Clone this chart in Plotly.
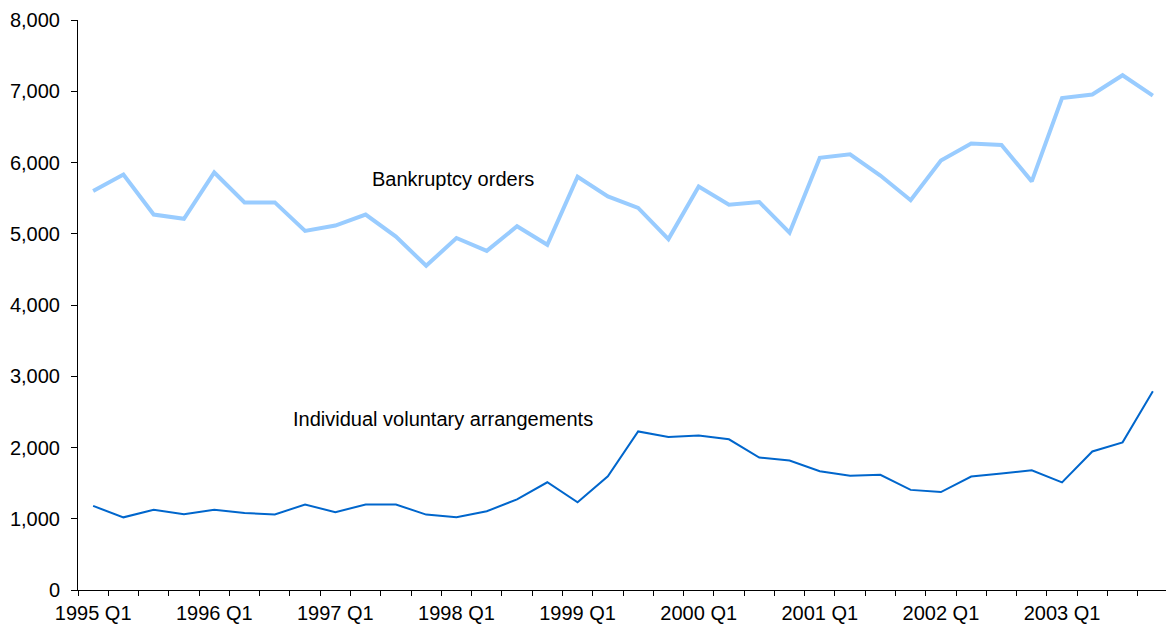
import plotly.graph_objects as go

years = list(range(1995, 2004))
quarters = [f"{y} Q{q}" for y in years for q in range(1, 5)]

bankruptcy_orders = [5600, 5830, 5270, 5210, 5860, 5440, 5440, 5040,
                     5115, 5270, 4960, 4550, 4940, 4760, 5105, 4845,
                     5800, 5525, 5362, 4925, 5662, 5408, 5446, 5014,
                     6066, 6115, 5817, 5470, 6028, 6265, 6245, 5735,
                     6905, 6955, 7225, 6938]
iva = [1180, 1020, 1125, 1062, 1125, 1080, 1060, 1200,
       1092, 1200, 1200, 1058, 1020, 1105, 1272, 1512,
       1230, 1596, 2225, 2148, 2169, 2115, 1859, 1817,
       1668, 1603, 1617, 1405, 1375, 1592, 1636, 1680,
       1510, 1944, 2072, 2789]

xidx = list(range(len(quarters)))
q1_idx = [i for i, q in enumerate(quarters) if q.endswith("Q1")]
q1_labels = [quarters[i] for i in q1_idx]

font_family = "Liberation Sans, Arial, sans-serif"

fig = go.Figure()
fig.add_trace(go.Scatter(x=xidx, y=bankruptcy_orders, mode="lines",
                         line=dict(color="#99CCFF", width=4),
                         name="Bankruptcy orders", hoverinfo="y"))
fig.add_trace(go.Scatter(x=xidx, y=iva, mode="lines",
                         line=dict(color="#0066CC", width=2),
                         name="Individual voluntary arrangements", hoverinfo="y"))

fig.add_annotation(x=11.9, y=5770, text="Bankruptcy orders", showarrow=False,
                   font=dict(family=font_family, size=20, color="black"))
fig.add_annotation(x=11.55, y=2400, text="Individual voluntary arrangements", showarrow=False,
                   font=dict(family=font_family, size=20, color="black"))

# page body has an 8px default margin, so the figure is sized to fit the window
fig.update_layout(
    width=1166, height=617,
    margin=dict(l=70, r=6, t=12, b=35),
    paper_bgcolor="white", plot_bgcolor="white",
    showlegend=False,
    font=dict(family=font_family, size=20, color="black"),
    xaxis=dict(
        range=[-0.5, len(quarters) - 0.5],
        tickvals=q1_idx, ticktext=q1_labels,
        ticks="outside", ticklen=5, tickcolor="rgba(0,0,0,0)",
        showline=True, linecolor="black", linewidth=1,
        showgrid=False, zeroline=False, automargin=False,
        minor=dict(tickvals=[i - 0.5 for i in range(len(quarters) + 1)],
                   ticks="outside", ticklen=5, tickcolor="black", showgrid=False),
        tickfont=dict(family=font_family, size=20, color="black"),
    ),
    yaxis=dict(
        range=[0, 8000], tickvals=list(range(0, 8001, 1000)),
        tickformat=",d",
        ticks="outside", ticklen=6, tickcolor="black",
        ticklabelstandoff=7,
        showline=True, linecolor="black", linewidth=1,
        showgrid=False, zeroline=False, automargin=False,
        tickfont=dict(family=font_family, size=20, color="black"),
    ),
)

fig.write_html("out.html")
